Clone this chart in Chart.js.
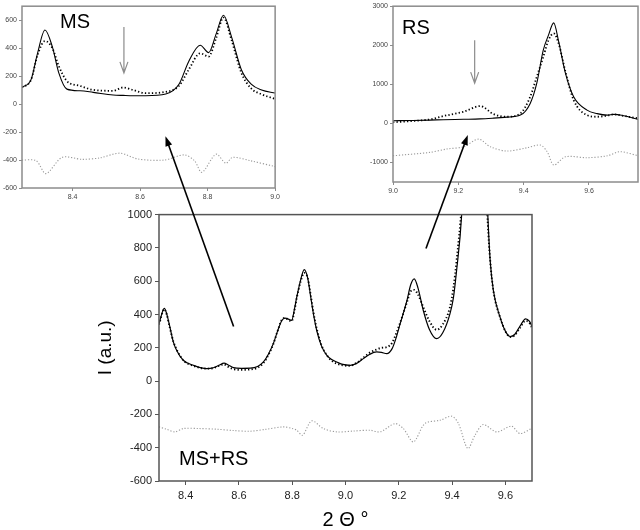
<!DOCTYPE html>
<html>
<head>
<meta charset="utf-8">
<script src="https://cdn.jsdelivr.net/npm/chart.js@4"></script>
<style>
body { margin: 0; background: #fff; }
#wrap { position: relative; width: 640px; height: 530px; overflow: hidden; }
canvas { position: absolute; }
.lab { position: absolute; font-family: "Liberation Sans", Arial, sans-serif; font-size: 20px; line-height: 20px; color: #000; }
</style>
</head>
<body>
<div id="wrap">
  <canvas id="ms" width="282" height="205" style="left:0;top:0"></canvas>
  <canvas id="rs" width="282" height="200" style="left:358px;top:0"></canvas>
  <canvas id="main" width="640" height="325" style="left:0;top:205px"></canvas>
  <canvas id="over" width="640" height="530" style="left:0;top:0;pointer-events:none"></canvas>
  <div class="lab" style="left:60px;top:11px">MS</div>
  <div class="lab" style="left:402px;top:17px">RS</div>
  <div class="lab" style="left:179px;top:448px">MS+RS</div>
</div>
<script>
const FONT = '"Liberation Sans", Arial, sans-serif';

// main panel (MS+RS)
const mainX = [8.30, 8.32, 8.329, 8.341, 8.354, 8.366, 8.391, 8.429, 8.479, 8.504, 8.525, 8.544, 8.56, 8.579,
    8.61, 8.642, 8.67, 8.692, 8.71, 8.729, 8.745, 8.761, 8.773, 8.786, 8.798, 8.808, 8.817, 8.832, 8.845,
    8.858, 8.87, 8.88, 8.892, 8.91, 8.93, 8.95, 8.967, 8.99, 9.017, 9.04, 9.067, 9.09, 9.117, 9.135, 9.155,
    9.175, 9.19, 9.205, 9.23, 9.245, 9.258, 9.272, 9.292, 9.315, 9.342, 9.365, 9.392, 9.405, 9.417, 9.436,
    9.46, 9.488, 9.512, 9.534, 9.543, 9.555, 9.58, 9.60, 9.618, 9.635, 9.655, 9.676, 9.69, 9.70];
const mainCalc = [345, 437, 404, 324, 234, 185, 125, 95, 75, 80, 95, 108, 97, 81,
    77, 78, 88, 115, 160, 225, 300, 364, 378, 372, 364, 430, 504, 610, 670,
    620, 500, 400, 304, 210, 155, 128, 115, 100, 95, 105, 135, 160, 175, 172, 165,
    195, 260, 344, 480, 580, 614, 560, 424, 310, 255, 290, 404, 500, 664, 1000,
    1900, 2600, 1900, 1000, 724, 544, 384, 300, 268, 280, 330, 374, 360, 328];
const mainObs = [340, 432, 400, 318, 238, 190, 125, 92, 75, 78, 92, 100, 85, 72,
    68, 70, 80, 108, 155, 222, 300, 368, 380, 368, 360, 420, 500, 600, 650,
    620, 510, 410, 315, 215, 155, 120, 105, 95, 92, 108, 140, 170, 190, 200, 204,
    230, 285, 350, 470, 540, 548, 520, 444, 360, 308, 340, 444, 560, 724, 1050,
    1700, 2300, 1750, 950, 724, 544, 384, 300, 265, 275, 320, 362, 350, 320];
const mainDiffX = [8.30, 8.33, 8.36, 8.391, 8.45, 8.517, 8.58, 8.642, 8.70, 8.767, 8.80, 8.817, 8.839, 8.873,
    8.917, 8.967, 9.03, 9.092, 9.13, 9.186, 9.217, 9.255, 9.298, 9.355, 9.399, 9.424, 9.459, 9.486, 9.517,
    9.567, 9.623, 9.655, 9.70];
const mainDiff = [-275, -290, -305, -285, -285, -289, -297, -301, -290, -275, -285, -295, -325, -239,
    -285, -305, -300, -295, -305, -255, -285, -365, -255, -235, -211, -255, -405, -325, -261,
    -305, -271, -315, -283];
const mainXTicks = [8.4, 8.6, 8.8, 9.0, 9.2, 9.4, 9.6];
const mainYTicks = [-600, -400, -200, 0, 200, 400, 600, 800, 1000];

// MS inset
const msX = [8.25, 8.277, 8.296, 8.318, 8.34, 8.359, 8.383, 8.422, 8.461, 8.52, 8.55, 8.58, 8.617, 8.676,
    8.715, 8.744, 8.778, 8.803, 8.825, 8.847, 8.871, 8.90, 8.929, 8.96, 9.0];
const msCalc = [119, 177, 363, 530, 409, 223, 107, 95, 84, 65, 62, 60, 60, 72,
    142, 305, 421, 368, 500, 635, 479, 246, 142, 100, 79];
const msObs = [119, 175, 350, 451, 400, 272, 165, 130, 102, 95, 119, 100, 78, 88,
    130, 246, 363, 340, 470, 619, 456, 223, 112, 70, 37];
const msDiffX = [8.25, 8.292, 8.321, 8.369, 8.428, 8.48, 8.54, 8.594, 8.672, 8.731, 8.761, 8.783, 8.825,
    8.854, 8.874, 8.927, 9.0];
const msDiff = [-400, -405, -497, -381, -395, -385, -351, -393, -400, -363, -405, -488, -358,
    -423, -381, -405, -447];
const msXTicks = [8.4, 8.6, 8.8, 9.0];
const msYTicks = [-600, -400, -200, 0, 200, 400, 600];

// RS inset
const rsX = [9.0, 9.06, 9.113, 9.154, 9.216, 9.267, 9.308, 9.349, 9.39, 9.42, 9.44, 9.46, 9.476, 9.492,
    9.507, 9.528, 9.553, 9.594, 9.625, 9.656, 9.676, 9.70, 9.751];
const rsCalc = [68, 75, 85, 95, 105, 115, 135, 160, 212, 511, 1023, 1875, 2260, 2573,
    2100, 1279, 680, 340, 250, 212, 230, 210, 102];
const rsObs = [30, 60, 102, 187, 298, 443, 238, 170, 256, 680, 1190, 1700, 2130, 2302,
    2046, 1320, 596, 212, 170, 200, 230, 200, 128];
const rsDiffX = [9.0, 9.113, 9.164, 9.216, 9.262, 9.298, 9.349, 9.41, 9.451, 9.472, 9.492, 9.528, 9.594,
    9.656, 9.695, 9.751];
const rsDiff = [-829, -742, -657, -598, -402, -598, -708, -624, -555, -725, -1066, -853, -879,
    -829, -725, -829];
const rsXTicks = [9.0, 9.2, 9.4, 9.6];
const rsYTicks = [-1000, 0, 1000, 2000, 3000];

// markers: [x, y from, y to]
const msMarker = [8.552, 551, 223];
const rsMarker = [9.25, 2130, 1030];
// links from main panel to insets: [x, y] in main, [x, y] in inset
const linkMS = [[8.58, 328], [8.675, -230]];
const linkRS = [[9.302, 796], [9.229, -299]];

function pts(xs, ys) {
    return xs.map((x, i) => ({x: x, y: ys[i]}));
}

const boxPlugin = {
    id: 'box',
    afterDatasetsDraw(chart, args, opts) {
        const a = chart.chartArea, ctx = chart.ctx;
        ctx.save();
        ctx.strokeStyle = opts.color;
        ctx.lineWidth = opts.width;
        ctx.strokeRect(a.left, a.top, a.right - a.left, a.bottom - a.top);
        if (opts.marker) {
            const m = opts.marker;
            const x = chart.scales.x.getPixelForValue(m[0]);
            const y1 = chart.scales.y.getPixelForValue(m[1]);
            const y2 = chart.scales.y.getPixelForValue(m[2]);
            ctx.strokeStyle = '#8c8c8c';
            ctx.lineWidth = 1.2;
            ctx.beginPath();
            ctx.moveTo(x, y1); ctx.lineTo(x, y2);
            ctx.moveTo(x - 4, y2 - 11); ctx.lineTo(x, y2); ctx.lineTo(x + 4, y2 - 11);
            ctx.stroke();
        }
        ctx.restore();
    }
};

function lineSets(calc, obs, diff, w) {
    return [
        {data: calc, borderColor: '#000', borderWidth: w, pointRadius: 0, cubicInterpolationMode: 'monotone'},
        {data: obs, borderColor: '#000', borderWidth: w + 0.7, borderDash: [1.3, 2.2], pointRadius: 0,
            cubicInterpolationMode: 'monotone'},
        {data: diff, borderColor: '#9a9a9a', borderWidth: 1.1, borderDash: [1.2, 1.8], pointRadius: 0, tension: 0.3}
    ];
}

function axis(min, max, ticks, fit, o, horiz) {
    return {
        type: 'linear', min: min, max: max,
        afterBuildTicks: s => { s.ticks = ticks.map(v => ({value: v})); },
        afterFit: s => { if (horiz) { s.height = fit; } else { s.width = fit; } },
        ticks: {
            autoSkip: false, maxRotation: 0, color: o.tc, padding: o.pad,
            font: {size: o.fs, family: FONT},
            callback: v => horiz ? v.toFixed(1) : String(v)
        },
        grid: {drawOnChartArea: false, tickLength: o.tl, color: o.ac, lineWidth: 1},
        border: {display: false},
        title: o.title ? {display: true, text: o.title, color: '#000', font: {size: o.tfs, family: FONT, lineHeight: 1},
            padding: o.tpad} : {display: false}
    };
}

function makeChart(id, ds, scales, pad, box) {
    return new Chart(document.getElementById(id), {
        type: 'line',
        data: {datasets: ds},
        options: {
            responsive: false, animation: false, parsing: true,
            layout: {padding: pad},
            plugins: {legend: {display: false}, tooltip: {enabled: false}, box: box},
            scales: scales
        },
        plugins: [boxPlugin]
    });
}

const inset = {tc: '#444', pad: 2, fs: 7, tl: 3, ac: '#8c8c8c'};

const msChart = makeChart('ms',
    lineSets(pts(msX, msCalc), pts(msX, msObs), pts(msDiffX, msDiff), 1.1),
    {x: axis(8.25, 9.0, msXTicks, 17, inset, true), y: axis(-600, 700, msYTicks, 22, inset, false)},
    {top: 2, right: 2, left: 0, bottom: 0},
    {color: '#8c8c8c', width: 1.5, marker: msMarker});

const rsChart = makeChart('rs',
    lineSets(pts(rsX, rsCalc), pts(rsX, rsObs), pts(rsDiffX, rsDiff), 1.1),
    {x: axis(9.0, 9.75, rsXTicks, 18, inset, true), y: axis(-1500, 3000, rsYTicks, 35, inset, false)},
    {top: 6, right: 2, left: 0, bottom: 0},
    {color: '#8c8c8c', width: 1.5, marker: rsMarker});

const mainChart = makeChart('main',
    lineSets(pts(mainX, mainCalc), pts(mainX, mainObs), pts(mainDiffX, mainDiff), 1.2),
    {
        x: axis(8.3, 9.7, mainXTicks, 49, {tc: '#222', pad: 4, fs: 11, tl: 4, ac: '#555', title: '2 \u0398 \u00b0', tfs: 20,
            tpad: {top: 0, bottom: 0}}, true),
        y: axis(-600, 1000, mainYTicks, 69, {tc: '#222', pad: 3, fs: 11, tl: 4, ac: '#555', title: 'I (a.u.)', tfs: 19,
            tpad: {top: 6, bottom: 0}}, false)
    },
    {top: 9, right: 108, left: 90, bottom: 0},
    {color: '#555', width: 1.5});

function pagePoint(chart, p) {
    return [chart.scales.x.getPixelForValue(p[0]) + chart.canvas.offsetLeft,
        chart.scales.y.getPixelForValue(p[1]) + chart.canvas.offsetTop];
}

function drawArrow(ctx, a, b) {
    const ang = Math.atan2(b[1] - a[1], b[0] - a[0]);
    const len = 10, half = 3.5;
    ctx.strokeStyle = '#000';
    ctx.fillStyle = '#000';
    ctx.lineWidth = 1.6;
    ctx.beginPath();
    ctx.moveTo(a[0], a[1]);
    ctx.lineTo(b[0] - Math.cos(ang) * len * 0.8, b[1] - Math.sin(ang) * len * 0.8);
    ctx.stroke();
    ctx.beginPath();
    ctx.moveTo(b[0], b[1]);
    ctx.lineTo(b[0] - Math.cos(ang) * len - Math.sin(ang) * half, b[1] - Math.sin(ang) * len + Math.cos(ang) * half);
    ctx.lineTo(b[0] - Math.cos(ang) * len + Math.sin(ang) * half, b[1] - Math.sin(ang) * len - Math.cos(ang) * half);
    ctx.closePath();
    ctx.fill();
}

const octx = document.getElementById('over').getContext('2d');
drawArrow(octx, pagePoint(mainChart, linkMS[0]), pagePoint(msChart, linkMS[1]));
drawArrow(octx, pagePoint(mainChart, linkRS[0]), pagePoint(rsChart, linkRS[1]));
</script>
</body>
</html>
